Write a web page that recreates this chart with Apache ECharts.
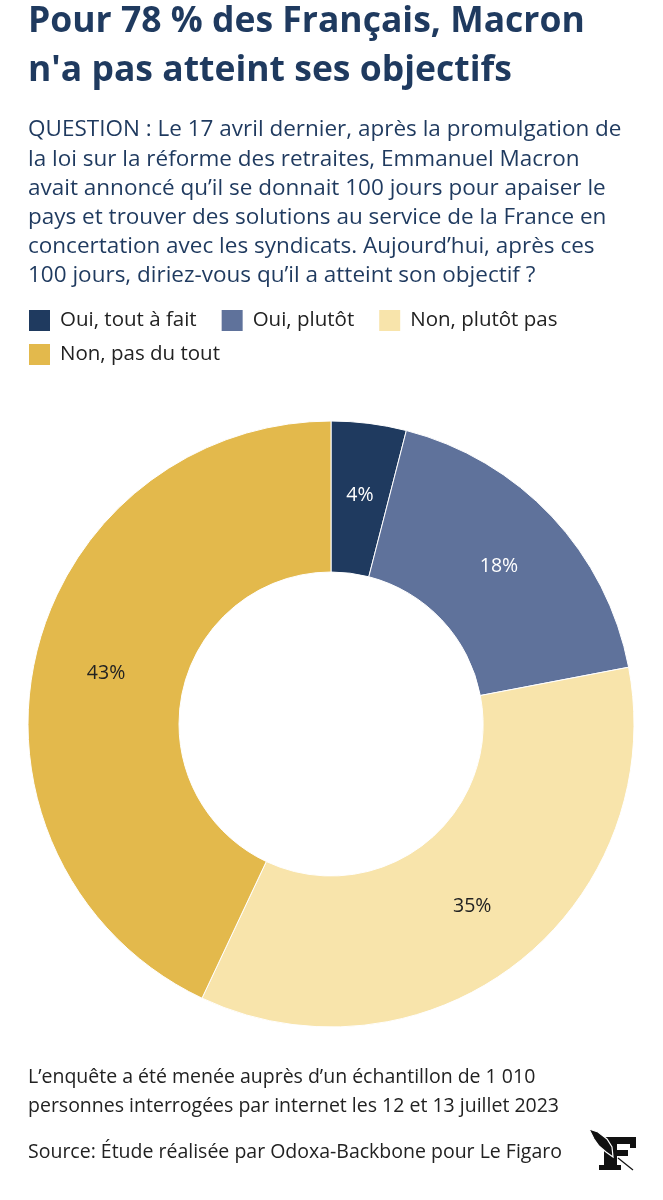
<!DOCTYPE html>
<html>
<head>
<meta charset="utf-8">
<script src="https://cdn.jsdelivr.net/npm/echarts@6/dist/echarts.min.js"></script>
<style>
html,body{margin:0;padding:0;background:#fff;}
#c{width:663px;height:1200px;}
</style>
</head>
<body>
<div id="c"></div>
<script>
const categories = ["Oui, tout à fait", "Oui, plutôt", "Non, plutôt pas", "Non, pas du tout"];
const values = [4, 18, 35, 43];
const colors = ["#1f3a5f", "#5f729b", "#f8e4ab", "#e3b94c"];
const labelColors = ["#ffffff", "#ffffff", "#222222", "#222222"];

const titleText = "Pour 78 % des Français, Macron\nn'a pas atteint ses objectifs";
const questionText = "QUESTION : Le 17 avril dernier, après la promulgation de\nla loi sur la réforme des retraites, Emmanuel Macron\navait annoncé qu’il se donnait 100 jours pour apaiser le\npays et trouver des solutions au service de la France en\nconcertation avec les syndicats. Aujourd’hui, après ces\n100 jours, diriez-vous qu’il a atteint son objectif ?";
const noteText = "L’enquête a été menée auprès d’un échantillon de 1 010\npersonnes interrogées par internet les 12 et 13 juillet 2023";
const sourceText = "Source: Étude réalisée par Odoxa-Backbone pour Le Figaro";

const FONT = "Open Sans";
const chart = echarts.init(document.getElementById('c'), null, {renderer: 'canvas'});
const legendCommon = {
  icon: 'rect', itemWidth: 23, itemHeight: 23, itemGap: 23, padding: 0,
  textStyle: {fontFamily: FONT, fontSize: 20.5, color: '#222', padding: [0, 0, 0, 4]}
};
function txt(text, x, y, size, weight, color, lh) {
  return {type: 'text', x: x, y: y, silent: true,
    style: {text: text, fontFamily: FONT, fontSize: size, fontWeight: weight,
            fill: color, lineHeight: lh, align: 'left', verticalAlign: 'top'}};
}
chart.setOption({
  animation: false,
  backgroundColor: '#fff',
  textStyle: {fontFamily: FONT},
  legend: [
    Object.assign({left: 27, top: 308, data: categories.slice(0, 3)}, legendCommon),
    Object.assign({left: 27, top: 342, data: categories.slice(3)}, legendCommon)
  ],
  graphic: [
    txt(titleText, 28, -2.5, 35.5, 'bold', '#1f3a5f', 49),
    txt(questionText, 28, 115.4, 22.5, 'normal', '#1f3a5f', 29.2),
    txt(noteText, 28, 1062.5, 19.5, 'normal', '#222', 29),
    txt(sourceText, 28, 1138, 19.5, 'normal', '#222', 29),
    // Le Figaro logo
    {type: 'rect', shape: {x: 605, y: 1137, width: 31, height: 7}, style: {fill: '#111'}},
    {type: 'rect', shape: {x: 630, y: 1137, width: 6, height: 11}, style: {fill: '#111'}},
    {type: 'rect', shape: {x: 604, y: 1137, width: 13, height: 33}, style: {fill: '#111'}},
    {type: 'rect', shape: {x: 613, y: 1150, width: 15, height: 6}, style: {fill: '#111'}},
    {type: 'rect', shape: {x: 599, y: 1165, width: 22, height: 5}, style: {fill: '#111'}},
    {type: 'polygon', shape: {points: [[589,1129],[598,1132],[607,1139],[612,1147],[613,1157],[606,1152],[599,1146],[594,1139]]},
     style: {fill: '#111', stroke: '#fff', lineWidth: 1.2}},
    {type: 'line', shape: {x1: 618, y1: 1158, x2: 633, y2: 1170}, style: {stroke: '#111', lineWidth: 1.2}}
  ],
  series: [{
    type: 'pie',
    center: [331, 724],
    radius: [152, 303],
    startAngle: 90,
    clockwise: true,
    avoidLabelOverlap: false,
    itemStyle: {borderColor: '#fff', borderWidth: 1},
    label: {
      show: true, position: 'inside',
      formatter: '{c}%',
      fontFamily: FONT, fontSize: 19.5
    },
    labelLine: {show: false},
    emphasis: {disabled: true},
    data: categories.map((n, i) => ({
      name: n, value: values[i],
      itemStyle: {color: colors[i]},
      label: {color: labelColors[i]}
    }))
  }]
});
</script>
</body>
</html>
